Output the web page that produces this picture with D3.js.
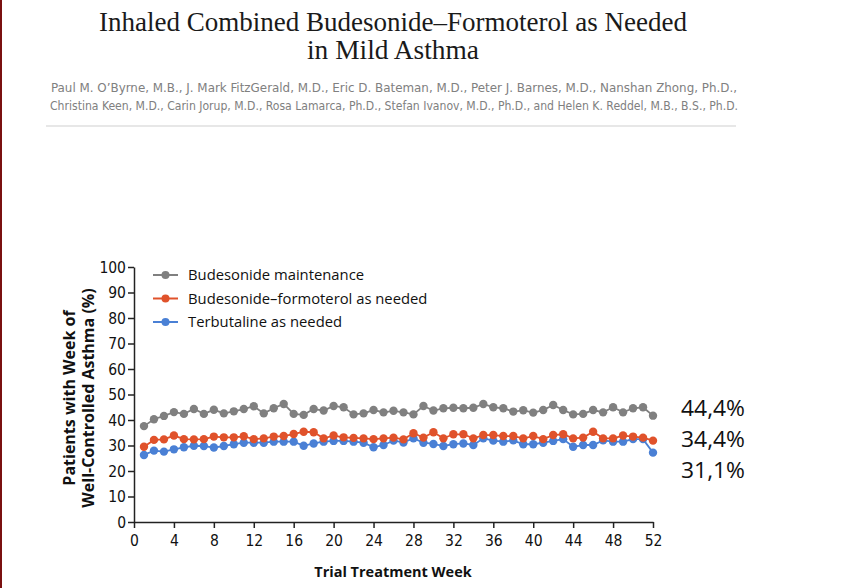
<!DOCTYPE html>
<html><head><meta charset="utf-8">
<script src="https://cdn.jsdelivr.net/npm/d3@7/dist/d3.min.js"></script>
<style>body{margin:0;background:#fff;}svg{display:block;}</style>
</head><body>
<svg id="c" width="854" height="588"></svg>
<script>
const weeks = d3.range(1, 53);
const budMaint = [37.6,40.3,41.6,43.1,42.4,44.3,42.4,44.0,42.6,43.4,44.3,45.4,42.6,44.6,46.3,42.4,42.0,44.3,43.7,45.5,45.0,42.2,42.6,43.9,43.0,43.6,43.0,42.2,45.5,43.7,44.6,44.8,44.6,44.8,46.3,45.0,44.6,43.3,43.8,42.9,43.9,45.9,43.9,42.2,42.4,43.9,43.0,45.0,43.0,44.6,45.0,41.7];
const budForm = [29.5,32.2,32.4,33.9,32.5,32.4,32.5,33.5,33.2,33.2,33.6,32.5,32.8,33.5,33.7,34.5,35.4,35.2,32.8,33.9,33.2,33.0,32.8,32.5,32.8,33.1,32.4,34.8,33.1,35.2,32.8,34.4,34.4,32.8,34.1,34.1,33.7,33.7,32.8,33.7,32.5,34.1,34.4,32.8,33.1,35.4,32.8,32.8,33.9,33.5,33.1,31.9];
const terb = [26.3,28.0,27.6,28.5,29.3,29.9,29.8,29.2,29.8,30.5,31.1,31.1,31.1,31.5,31.5,31.5,29.9,30.8,31.5,31.8,31.8,31.5,31.1,29.3,30.2,31.9,31.2,32.8,31.1,30.6,29.8,30.5,30.8,30.2,32.8,31.9,31.5,32.0,30.5,30.5,31.1,31.8,32.5,29.5,30.2,30.2,32.0,31.5,31.5,32.5,32.5,27.2];
const seriesNames = ["Budesonide maintenance","Budesonide\u2013formoterol as needed","Terbutaline as needed"];
const seriesColors = ["#808080","#e0522b","#4a80d5"];
const endLabels = ["44,4%","34,4%","31,1%"];
const xTicks = d3.range(0, 53, 4);
const yTicks = d3.range(0, 101, 10);
const titleLines = ["Inhaled Combined Budesonide\u2013Formoterol as Needed","in Mild Asthma"];
const authorLines = ["Paul M. O\u2019Byrne, M.B., J. Mark FitzGerald, M.D., Eric D. Bateman, M.D., Peter J. Barnes, M.D., Nanshan Zhong, Ph.D.,",
 "Christina Keen, M.D., Carin Jorup, M.D., Rosa Lamarca, Ph.D., Stefan Ivanov, M.D., Ph.D., and Helen K. Reddel, M.B., B.S., Ph.D."];

const svg = d3.select("#c");
const narrow = "'Liberation Sans Narrow','DejaVu Sans Condensed','Liberation Sans',sans-serif";
const sans = "'Open Sans','Liberation Sans',sans-serif";

// left border
svg.append("rect").attr("x",0).attr("y",0).attr("width",2).attr("height",588).attr("fill","#7a1010");

// title
const serif = "'Liberation Serif','DejaVu Serif',serif";
svg.append("text").attr("x",393).attr("y",31).attr("text-anchor","middle")
  .attr("font-family",serif).attr("font-size",27.5).attr("fill","#1a1a1a")
  .attr("textLength",588).attr("lengthAdjust","spacingAndGlyphs").text(titleLines[0]);
svg.append("text").attr("x",393).attr("y",59).attr("text-anchor","middle")
  .attr("font-family",serif).attr("font-size",27.5).attr("fill","#1a1a1a")
  .attr("textLength",172).attr("lengthAdjust","spacingAndGlyphs").text(titleLines[1]);
const aw = [686, 688];
authorLines.forEach((t,i)=>{
  svg.append("text").attr("x",394).attr("y",92+i*18).attr("text-anchor","middle")
   .attr("font-family",narrow).attr("font-size",13).attr("fill","#808080")
   .attr("textLength",aw[i]).attr("lengthAdjust","spacingAndGlyphs").text(t);
});
svg.append("line").attr("x1",46).attr("x2",736).attr("y1",126).attr("y2",126).attr("stroke","#d0d0d0").attr("stroke-width",1.2);

// chart
const x = d3.scaleLinear().domain([0,52]).range([134,653]);
const y = d3.scaleLinear().domain([0,100]).range([522,267]);

const xAxis = svg.append("g").attr("transform","translate(0,522)")
  .call(d3.axisBottom(x).tickValues(xTicks).tickSize(6).tickPadding(4).tickSizeOuter(0));
const yAxis = svg.append("g").attr("transform","translate(134,0)")
  .call(d3.axisLeft(y).tickValues(yTicks).tickSize(6).tickPadding(2).tickSizeOuter(0));
[xAxis,yAxis].forEach(a=>{
  a.select(".domain").attr("stroke","#222").attr("stroke-width",1.5);
  a.selectAll(".tick line").attr("stroke","#222").attr("stroke-width",1.5);
  a.selectAll(".tick text").attr("font-family",narrow).attr("font-size",15.5).attr("fill","#111");
});
xAxis.selectAll(".tick text").attr("dy","0.9em");
yAxis.selectAll(".tick text").attr("dy","0.35em");

svg.append("text").attr("x",393).attr("y",577).attr("text-anchor","middle")
  .attr("font-family",sans).attr("font-weight","bold").attr("font-size",14.5).attr("fill","#111")
  .text("Trial Treatment Week");
const yl = svg.append("text").attr("transform","translate(0,398) rotate(-90)").attr("text-anchor","middle")
  .attr("font-family",sans).attr("font-weight","bold").attr("font-size",16).attr("fill","#111");
yl.append("tspan").attr("x",0).attr("y",75).text("Patients with Week of");
yl.append("tspan").attr("x",0).attr("y",94).text("Well-Controlled Asthma (%)");

const data = [budMaint, budForm, terb];
const line = d3.line().x((d,i)=>x(weeks[i])).y(d=>y(d));
[2,1,0].forEach(k=>{
  const g = svg.append("g");
  g.append("path").datum(data[k]).attr("d",line).attr("fill","none")
    .attr("stroke",seriesColors[k]).attr("stroke-width",1.8);
  g.selectAll("circle").data(data[k]).join("circle")
    .attr("cx",(d,i)=>x(weeks[i])).attr("cy",d=>y(d)).attr("r",4.2)
    .attr("fill",seriesColors[k]);
});

// legend
seriesNames.forEach((n,i)=>{
  const ly = 275 + i*23.5;
  svg.append("line").attr("x1",153).attr("x2",178).attr("y1",ly).attr("y2",ly).attr("stroke",seriesColors[i]).attr("stroke-width",2);
  svg.append("circle").attr("cx",165.5).attr("cy",ly).attr("r",4).attr("fill",seriesColors[i]);
  svg.append("text").attr("x",188).attr("y",ly).attr("dy","0.35em")
    .attr("font-family",sans).attr("font-size",14.8).attr("fill","#111").text(n);
});

// end labels
endLabels.forEach((t,i)=>{
  svg.append("text").attr("x",681).attr("y",[416,447,478][i])
   .attr("font-family",sans).attr("font-size",21).attr("fill","#111")
   .attr("textLength",64).attr("lengthAdjust","spacingAndGlyphs").text(t);
});
</script>
</body></html>
